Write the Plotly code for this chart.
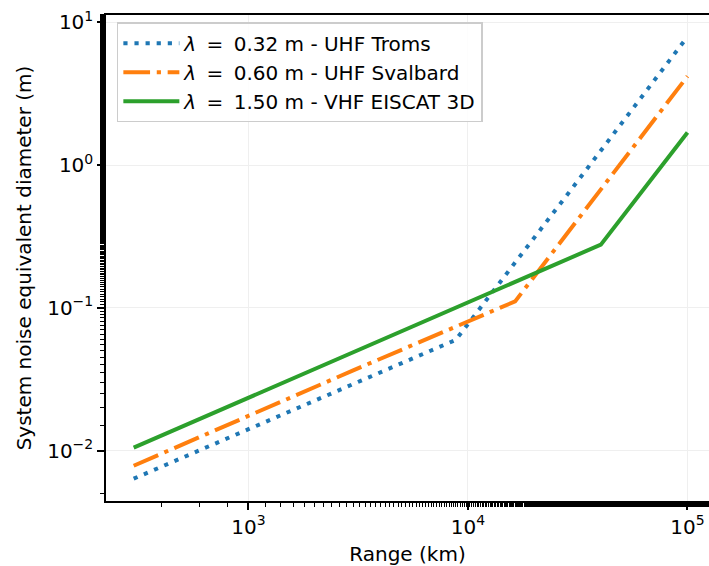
import plotly.graph_objects as go

# Data (range in km, diameter in m)
range_troms = [300, 1000, 3000, 8800, 30000, 100000]
diam_troms = [0.00637, 0.0142, 0.0296, 0.0597, 0.695, 7.9]

range_svalbard = [300, 1000, 3000, 16400, 40000, 100000]
diam_svalbard = [0.00785, 0.01755, 0.0365, 0.111, 0.658, 4.18]

range_e3d = [300, 1000, 3000, 10000, 40300, 100000]
diam_e3d = [0.0105, 0.0234, 0.0489, 0.109, 0.277, 1.69]

names = ["<i>λ</i>\u2009 = \u20090.32 m - UHF Troms",
         "<i>λ</i>\u2009 = \u20090.60 m - UHF Svalbard",
         "<i>λ</i>\u2009 = \u20091.50 m - VHF EISCAT 3D"]

x_tickvals = [1e3, 1e4, 1e5]
x_ticktext = ["10<sup>3</sup>", "10<sup>4</sup>", "10<sup>5</sup>"]
y_tickvals = [1e-2, 1e-1, 1e0, 1e1]
y_ticktext = ["10<sup>−2</sup>", "10<sup>−1</sup>", "10<sup>0</sup>", "10<sup>1</sup>"]

FONT = "DejaVu Sans"
FS = 20

fig = go.Figure()
fig.add_trace(go.Scatter(x=range_troms, y=diam_troms, mode="lines", name=names[0],
                         line=dict(color="#1f77b4", width=4, dash="4.2px,6.9px")))
fig.add_trace(go.Scatter(x=range_svalbard, y=diam_svalbard, mode="lines", name=names[1],
                         line=dict(color="#ff7f0e", width=4, dash="26.7px,6.7px,4.2px,6.7px")))
fig.add_trace(go.Scatter(x=range_e3d, y=diam_e3d, mode="lines", name=names[2],
                         line=dict(color="#2ca02c", width=4)))

fig.update_layout(
    width=709, height=566,
    margin=dict(l=106, r=0, t=15, b=65),
    paper_bgcolor="white", plot_bgcolor="white",
    font=dict(family=FONT, size=FS, color="black"),
    showlegend=True,
    legend=dict(x=0.018, y=0.985, xanchor="left", yanchor="top",
                bgcolor="rgba(255,255,255,0.85)", bordercolor="#cccccc", borderwidth=1.5,
                font=dict(family=FONT, size=FS), tracegroupgap=0, itemwidth=56),
)
fig.update_xaxes(type="log", range=[2.351, 5.098],
                 tickvals=x_tickvals, ticktext=x_ticktext,
                 ticks="outside", ticklen=7, tickwidth=1.5, tickcolor="black",
                 showline=True, linecolor="black", linewidth=1.5, mirror=True,
                 showgrid=True, gridcolor="#efefef", gridwidth=1,
                 minor=dict(ticks="outside", ticklen=4, tickwidth=1, tickcolor="black", showgrid=False),
                 title=dict(text="Range (km)", standoff=10, font=dict(family=FONT, size=FS)),
                 zeroline=False)
fig.update_yaxes(type="log", range=[-2.352, 1.050],
                 tickvals=y_tickvals, ticktext=y_ticktext,
                 ticks="outside", ticklen=7, tickwidth=1.5, tickcolor="black",
                 showline=True, linecolor="black", linewidth=1.5,
                 showgrid=True, gridcolor="#efefef", gridwidth=1,
                 minor=dict(ticks="outside", ticklen=4, tickwidth=1, tickcolor="black", showgrid=False),
                 title=dict(text="System noise equivalent diameter (m)", standoff=10, font=dict(family=FONT, size=FS)),
                 zeroline=False)

fig.write_html("out.html")
